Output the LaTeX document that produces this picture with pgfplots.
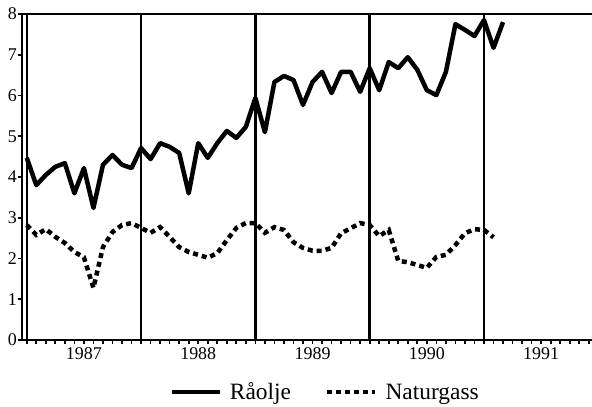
\documentclass[border=0pt]{standalone}
\usepackage{pgfplots}
\pgfplotsset{compat=1.18}
\usepackage{pgfplotstable}
\usepackage{fontspec}
\setmainfont{Liberation Serif}

\pgfplotstableread{
m v
0 4.47
1 3.80
2 4.05
3 4.25
4 4.34
5 3.60
6 4.22
7 3.24
8 4.30
9 4.54
10 4.30
11 4.22
12 4.71
13 4.44
14 4.83
15 4.74
16 4.59
17 3.60
18 4.83
19 4.47
20 4.83
21 5.13
22 4.96
23 5.23
24 5.94
25 5.10
26 6.33
27 6.48
28 6.38
29 5.77
30 6.33
31 6.58
32 6.06
33 6.58
34 6.58
35 6.09
36 6.67
37 6.13
38 6.82
39 6.67
40 6.94
41 6.63
42 6.13
43 6.01
44 6.58
45 7.75
46 7.61
47 7.46
48 7.85
49 7.17
50 7.80
}\raaolje

\pgfplotstableread{
m v
0 2.82
1 2.58
2 2.72
3 2.53
4 2.38
5 2.16
6 2.03
7 1.28
8 2.28
9 2.65
10 2.82
11 2.87
12 2.75
13 2.63
14 2.77
15 2.53
16 2.28
17 2.16
18 2.09
19 2.02
20 2.13
21 2.45
22 2.75
23 2.87
24 2.87
25 2.63
26 2.77
27 2.70
28 2.40
29 2.26
30 2.19
31 2.19
32 2.26
33 2.62
34 2.74
35 2.87
36 2.82
37 2.55
38 2.70
39 1.94
40 1.91
41 1.84
42 1.77
43 2.04
44 2.09
45 2.33
46 2.62
47 2.72
48 2.70
49 2.52
}\naturgass

\begin{document}
\begin{tikzpicture}
\begin{axis}[
  at={(0,0)}, anchor=south west,
  scale only axis,
  width=576.3bp, height=326bp,
  xmin=-0.5, xmax=60,
  ymin=0, ymax=8,
  axis line style={line width=2.4bp},
  tick pos=left,
  tick align=outside,
  major tick length=4bp, minor tick length=4bp,
  tick style={black, line width=1.7bp},
  ytick={0,1,...,8},
  xtick={6,18,30,42,54},
  xticklabels={1987,1988,1989,1990,1991},
  minor xtick={0,1,...,59},
  extra x ticks={0,12,24,36,48},
  extra x tick labels={},
  extra x tick style={grid=major, major grid style={black, line width=2.5bp}},
  /pgf/number format/assume math mode=true,
  ticklabel style={font=\fontsize{18}{18}\selectfont},
  yticklabel style={inner sep=1bp},
  xticklabel style={inner sep=3bp},
  legend columns=2,
  legend style={at={(axis description cs:0.526,-0.16)}, anchor=center,
    draw=none, fill=none, font=\fontsize{23.5}{23.5}\selectfont,
    /tikz/every even column/.append style={column sep=32bp},
    legend cell align=left},
  legend image code/.code={\draw[#1] (0bp,0bp) -- (48bp,0bp); \path (54bp,0bp);},
]
\addplot[black, line width=4.5bp, line join=round] table[x=m, y=v] {\raaolje};
\addlegendentry{Råolje}
\addplot[black, line width=4.5bp, dash pattern=on 5bp off 4bp] table[x=m, y=v] {\naturgass};
\addlegendentry{Naturgass}
\end{axis}
\pgfresetboundingbox
\path[use as bounding box] (-22bp,-67bp) rectangle (570bp,340bp);
\end{tikzpicture}
\end{document}
